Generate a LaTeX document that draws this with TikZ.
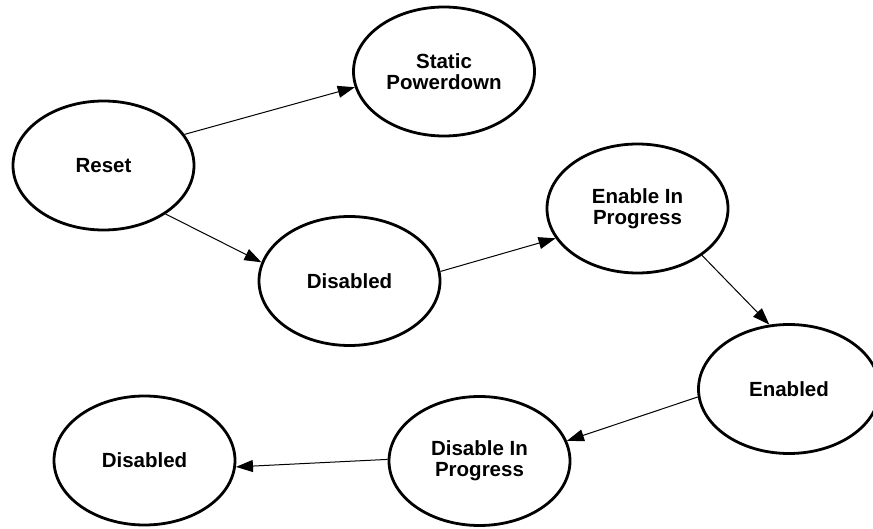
\documentclass[tikz,border=0pt]{standalone}
\usepackage{fontspec}
\setmainfont{Liberation Sans}
\usetikzlibrary{shapes.geometric,arrows.meta}

\begin{document}
\begin{tikzpicture}[x=1pt,y=-1pt,
		state/.style={ellipse,draw,line width=2.8pt,minimum width=181pt,
			minimum height=129pt,inner sep=0pt,align=center,
			font=\fontsize{20.5}{21}\selectfont\bfseries},
		trans/.style={line width=1pt,-{Triangle[length=17pt,width=12pt]}}]
	\useasboundingbox (0,0) rectangle (873,529);
	\node[state] (reset) at (103.5,165.5) {Reset};
	\node[state] (static) at (444,71.5) {Static\\Powerdown};
	\node[state] (disA) at (349.5,281) {Disabled};
	\node[state] (enIP) at (637.5,208.5) {Enable In\\Progress};
	\node[state] (enabled) at (789,389) {Enabled};
	\node[state] (disIP) at (479.5,461) {Disable In\\Progress};
	\node[state] (disB) at (144.5,460.5) {Disabled};
	\draw[trans] (reset.21) -- (static.190);
	\draw[trans] (reset.-38) -- (disA.168);
	\draw[trans] (disA.6) -- (enIP.200);
	\draw[trans] (enIP.-36) -- (enabled.107);
	\draw[trans] (enabled.185) -- (disIP.13);
	\draw[trans] (disIP.179) -- (disB.-4);
\end{tikzpicture}
\end{document}
